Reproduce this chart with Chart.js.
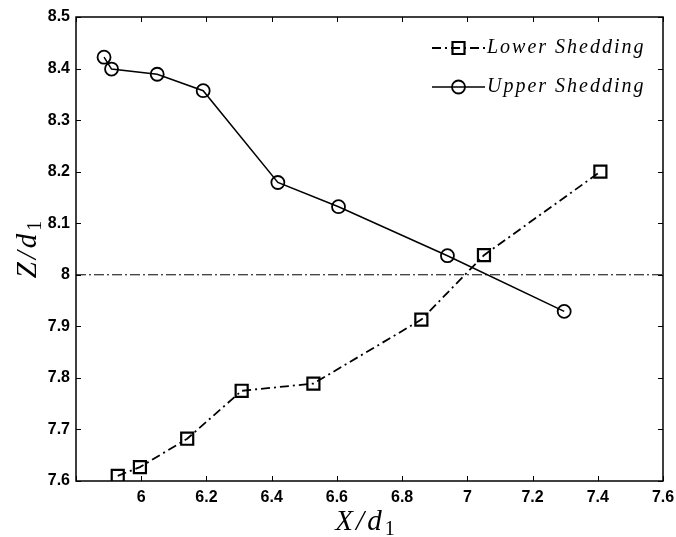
<!DOCTYPE html>
<html>
<head>
<meta charset="utf-8">
<script src="https://cdn.jsdelivr.net/npm/chart.js@4.4.1/dist/chart.umd.min.js"></script>
<style>
html, body { margin: 0; padding: 0; background: #fff; }
</style>
</head>
<body>
<canvas id="myChart" width="676" height="537"></canvas>
<script>
// values
const lowerX = [5.928, 5.996, 6.141, 6.308, 6.528, 6.859, 7.051, 7.408];
const lowerZ = [7.610, 7.627, 7.682, 7.775, 7.789, 7.913, 8.038, 8.200];
const upperX = [5.886, 5.909, 6.049, 6.190, 6.419, 6.605, 6.939, 7.297];
const upperZ = [8.422, 8.399, 8.389, 8.357, 8.179, 8.132, 8.037, 7.929];
const refZ = 8;
const xMin = 5.8, xMax = 7.6, xStep = 0.2;
const yMin = 7.6, yMax = 8.5, yStep = 0.1;
const seriesNames = ['Lower Shedding', 'Upper Shedding'];

const toPoints = (xs, ys) => xs.map((v, i) => ({x: v, y: ys[i]}));
const fmt = v => String(Number(v.toFixed(1)));
const tickFont = {family: "'Liberation Sans', Arial, sans-serif", size: 16, weight: 'bold'};

// frame around the plot and inward ticks on all four sides
const framePlugin = {
    id: 'frame',
    afterDatasetsDraw(chart) {
        const {ctx, chartArea: a, scales: {x, y}} = chart;
        ctx.save();
        ctx.strokeStyle = '#000';
        ctx.lineWidth = 1.5;
        ctx.strokeRect(a.left, a.top, a.right - a.left, a.bottom - a.top);
        ctx.lineWidth = 1;
        ctx.beginPath();
        x.ticks.forEach(t => {
            const px = Math.round(x.getPixelForValue(t.value)) + 0.5;
            ctx.moveTo(px, a.bottom); ctx.lineTo(px, a.bottom - 5);
            ctx.moveTo(px, a.top); ctx.lineTo(px, a.top + 5);
        });
        y.ticks.forEach(t => {
            const py = Math.round(y.getPixelForValue(t.value)) + 0.5;
            ctx.moveTo(a.left, py); ctx.lineTo(a.left + 5, py);
            ctx.moveTo(a.right, py); ctx.lineTo(a.right - 5, py);
        });
        ctx.stroke();
        ctx.restore();
    }
};

function drawSubLabel(ctx, main, sub, cx, baseY) {
    ctx.letterSpacing = '3px';
    ctx.font = "italic 29px 'Liberation Serif', serif";
    const w1 = ctx.measureText(main).width;
    ctx.letterSpacing = '0px';
    ctx.font = "20px 'Liberation Serif', serif";
    const w2 = ctx.measureText(sub).width;
    const start = cx - (w1 + w2 + 1) / 2;
    ctx.textBaseline = 'alphabetic';
    ctx.textAlign = 'left';
    ctx.letterSpacing = '3px';
    ctx.font = "italic 29px 'Liberation Serif', serif";
    ctx.fillText(main, start, baseY);
    ctx.letterSpacing = '0px';
    ctx.font = "20px 'Liberation Serif', serif";
    ctx.fillText(sub, start + w1, baseY + 5);
}

const titlePlugin = {
    id: 'axisTitles',
    afterDraw(chart) {
        const {ctx, chartArea: a} = chart;
        ctx.save();
        ctx.fillStyle = '#000';
        drawSubLabel(ctx, 'X/d', '1', (a.left + a.right) / 2 - 4, 530);
        ctx.translate(36, (a.top + a.bottom) / 2);
        ctx.rotate(-Math.PI / 2);
        drawSubLabel(ctx, 'Z/d', '1', 0, 0);
        ctx.restore();
    }
};

function drawMarker(ctx, style, r, px, py) {
    ctx.beginPath();
    if (style === 'rect') {
        const s = r * Math.SQRT1_2;
        ctx.rect(px - s, py - s, 2 * s, 2 * s);
    } else {
        ctx.arc(px, py, r, 0, Math.PI * 2);
    }
    ctx.stroke();
}

// legend drawn inside the plot, line sample + marker
const legendPlugin = {
    id: 'innerLegend',
    afterDraw(chart) {
        const {ctx, chartArea: a} = chart;
        chart.data.datasets.forEach((ds, i) => {
            if (!ds.label) return;
            const yy = a.top + 31 + i * 39;
            const x0 = a.right - 231, x1 = a.right - 178;
            ctx.save();
            ctx.strokeStyle = '#000';
            ctx.lineWidth = ds.borderWidth;
            ctx.setLineDash(ds.borderDash || []);
            ctx.beginPath();
            ctx.moveTo(x0, yy); ctx.lineTo(x1, yy);
            ctx.stroke();
            ctx.setLineDash([]);
            ctx.lineWidth = ds.pointBorderWidth;
            drawMarker(ctx, ds.pointStyle, ds.pointRadius, (x0 + x1) / 2, yy);
            ctx.fillStyle = '#000';
            ctx.font = "italic 20px 'Liberation Serif', serif";
            ctx.letterSpacing = '2px';
            ctx.textBaseline = 'middle';
            ctx.textAlign = 'left';
            ctx.fillText(ds.label, a.right - 176, yy);
            ctx.restore();
        });
    }
};

const ctx = document.getElementById('myChart').getContext('2d');
const myChart = new Chart(ctx, {
    type: 'line',
    data: {
        datasets: [{
            label: seriesNames[0],
            data: toPoints(lowerX, lowerZ),
            borderColor: '#000',
            borderWidth: 1.8,
            borderDash: [9, 4, 2, 4],
            pointStyle: 'rect',
            pointRadius: 8.5,
            pointBorderWidth: 2.2,
            pointBorderColor: '#000',
            pointBackgroundColor: 'transparent',
            tension: 0
        }, {
            label: seriesNames[1],
            data: toPoints(upperX, upperZ),
            borderColor: '#000',
            borderWidth: 1.5,
            pointStyle: 'circle',
            pointRadius: 6.5,
            pointBorderWidth: 1.8,
            pointBorderColor: '#000',
            pointBackgroundColor: 'transparent',
            tension: 0
        }, {
            label: '',
            data: [{x: xMin, y: refZ}, {x: xMax, y: refZ}],
            borderColor: '#000',
            borderWidth: 1,
            borderDash: [10, 3, 2, 3],
            pointRadius: 0
        }]
    },
    options: {
        responsive: false,
        animation: false,
        events: [],
        layout: {padding: {top: 17, right: 13, left: 0, bottom: 0}},
        scales: {
            x: {
                type: 'linear',
                min: xMin, max: xMax,
                afterFit: s => { s.height = 56; s.paddingRight = 0; },
                grid: {display: false, drawTicks: false},
                border: {display: false},
                ticks: {
                    stepSize: xStep,
                    padding: 7,
                    color: '#000',
                    font: tickFont,
                    maxRotation: 0,
                    autoSkip: false,
                    callback: v => Math.abs(v - xMin) < 1e-6 ? '' : fmt(v)
                }
            },
            y: {
                type: 'linear',
                min: yMin, max: yMax,
                afterFit: s => { s.width = 76; },
                grid: {display: false, drawTicks: false},
                border: {display: false},
                ticks: {
                    stepSize: yStep,
                    padding: 6,
                    color: '#000',
                    font: tickFont,
                    autoSkip: false,
                    callback: v => fmt(v)
                }
            }
        },
        plugins: {
            legend: {display: false},
            tooltip: {enabled: false}
        }
    },
    plugins: [framePlugin, titlePlugin, legendPlugin]
});
</script>
</body>
</html>
